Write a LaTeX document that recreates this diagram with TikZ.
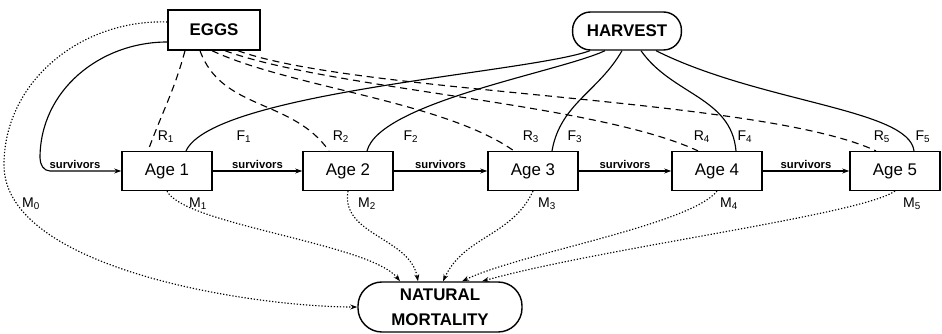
\documentclass[tikz,border=0pt]{standalone}
\usepackage{fontspec}
\setmainfont{Liberation Sans}
\usetikzlibrary{arrows.meta,calc}
\tikzset{flow/.style={-{Stealth[length=5pt,width=3.5pt]}, line width=0.8pt},
  agebox/.style={draw, line width=1pt, minimum width=2.25cm, minimum height=0.97cm, font=\fontsize{12}{14}\selectfont},
  poolbox/.style={draw, line width=1pt, rounded corners=0.45cm, align=center, font=\bfseries\fontsize{12}{17.5}\selectfont},
  surv/.style={font=\bfseries\fontsize{8}{9}\selectfont, inner sep=1.5pt},
  rate/.style={font=\fontsize{10}{11}\selectfont, inner sep=0pt},
  eggline/.style={line width=0.8pt, dash pattern=on 5pt off 3.5pt},
  catchline/.style={line width=0.8pt},
  deathline/.style={flow, dash pattern=on 0.9pt off 1.3pt}}

\begin{document}
\begin{tikzpicture}[x=0.025cm, y=0.025cm]
  \useasboundingbox (0,0) rectangle (942,-334);
  % pools
  \node[agebox, minimum width=2.3cm, minimum height=1cm, font=\bfseries\fontsize{12}{14}\selectfont] (eggs) at (214,-30) {EGGS};
  \node[poolbox, minimum width=2.72cm, minimum height=0.95cm] (harvest) at (627,-31) {HARVEST};
  \node[poolbox, minimum width=4.1cm, minimum height=1.25cm, rounded corners=0.6cm] (natural) at (440,-307) {NATURAL\\MORTALITY};
  % age classes
  \foreach \i/\x in {1/167,2/348,3/533,4/717,5/895}
    \node[agebox] (age\i) at (\x,-171) {Age \i};
  % survivors
  \draw[flow] ($(eggs.west)+(0,-12)$) to[out=180,in=90] (40,-158) to[out=-90,in=180] (50,-171) -- node[surv, above, pos=0.35] {survivors} (age1.west);
  \foreach \a/\b in {1/2,2/3,3/4,4/5}
    \draw[flow] (age\a) -- node[surv, above] {survivors} (age\b);
  % eggs produced
  \draw[eggline] ($(eggs.south)+(-29,0)$) to[out=-105,in=70] ($(age1.north)+(-19,0)$);
  \draw[eggline] ($(eggs.south)+(-14,0)$) to[out=-70,in=125] ($(age2.north)+(-19,0)$);
  \draw[eggline] ($(eggs.south)+(-2,0)$) to[out=-25,in=145,looseness=0.7] ($(age3.north)+(-19,0)$);
  \draw[eggline] ($(eggs.south)+(11,0)$) to[out=-20,in=155,looseness=0.6] ($(age4.north)+(-19,0)$);
  \draw[eggline] ($(eggs.south)+(24,0)$) to[out=-20,in=155,looseness=0.5] ($(age5.north)+(-19,0)$);
  % catch
  \draw[catchline] ($(age1.north)+(19,0)$) to[out=65,in=200,looseness=0.4] ($(harvest.south)+(-37,0)$);
  \draw[catchline] ($(age2.north)+(19,0)$) to[out=75,in=205,looseness=0.5] ($(harvest.south)+(-22,0)$);
  \draw[catchline] ($(age3.north)+(19,0)$) to[out=80,in=240] ($(harvest.south)+(-5,0)$);
  \draw[catchline] ($(age4.north)+(19,0)$) to[out=95,in=-55] ($(harvest.south)+(14,0)$);
  \draw[catchline] ($(age5.north)+(19,0)$) .. controls +(-5,42) and +(104,-52) .. ($(harvest.south)+(29,0)$);
  % natural deaths
  \draw[deathline] ($(eggs.west)+(0,8)$) to[out=178,in=90] (4,-165) to[out=-90,in=180,looseness=0.7] (natural.west);
  \draw[deathline] (age1.south) .. controls +(18,-34) and +(-30,38) .. ($(natural.north)+(-40,0)$);
  \draw[deathline] (age2.south) to[out=-100,in=100] ($(natural.north)+(-22,0)$);
  \draw[deathline] (age3.south) to[out=-115,in=65] ($(natural.north)+(3,0)$);
  \draw[deathline] (age4.south) .. controls +(-27,-34) and +(58,28) .. ($(natural.north)+(22,0)$);
  \draw[deathline] (age5.south) .. controls +(-35,-24) and +(118,33) .. ($(natural.north)+(42,0)$);
  % rates
  \foreach \i/\r/\f in {1/-1/77,2/-7/63,3/-2/42,4/-15/28,5/-13/28}{
    \node[rate] (r\i) at ($(age\i.north)+(\r,14)$) {R\textsubscript{\i}};
    \node[rate] (f\i) at ($(age\i.north)+(\f,14)$) {F\textsubscript{\i}};
  }
  \foreach \i/\m in {1/31,2/19,3/14,4/12,5/17}
    \node[rate] (m\i) at ($(age\i.south)+(\m,-13)$) {M\textsubscript{\i}};
  \node[rate] (m0) at (31,-204) {M\textsubscript{0}};
\end{tikzpicture}
\end{document}
